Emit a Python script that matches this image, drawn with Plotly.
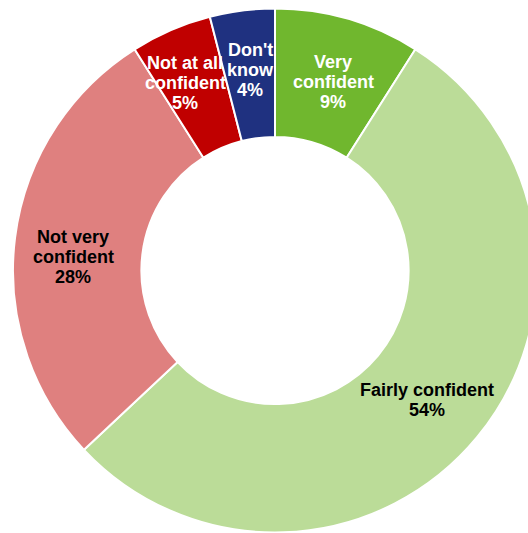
import plotly.graph_objects as go

# Survey responses: confidence level and share of respondents (%)
categories = ["Very confident", "Fairly confident", "Not very confident",
              "Not at all confident", "Don't know"]
shares = [9, 54, 28, 5, 4]

# How each category name is broken across lines inside its slice
label_lines = [["Very", "confident"], ["Fairly confident"], ["Not very", "confident"],
               ["Not at all", "confident"], ["Don't", "know"]]

slice_colors = ["#70B72E", "#BBDC98", "#DF807F", "#C00000", "#1F3180"]
text_colors = ["white", "black", "black", "white", "white"]

# Label block centres in pixels (x from left, y from top)
label_centres = [(333, 82), (427, 400), (73, 257), (185, 83), (250, 70)]

# The ring runs slightly past the right edge of the 528px page, so the
# figure is drawn a little wider and the overflow is hidden.
W, H = 540, 533
LINE_PITCH = 20
CX, CY, R = 275, 270.5, 262

fig = go.Figure(go.Pie(
    labels=categories,
    values=shares,
    sort=False,
    direction="clockwise",
    rotation=0,
    hole=0.51,
    marker=dict(colors=slice_colors, line=dict(color="white", width=2)),
    textinfo="none",
    hoverinfo="label+percent",
    showlegend=False,
    domain=dict(x=[(CX - R) / W, (CX + R) / W],
                y=[(H - CY - R) / H, (H - CY + R) / H]),
))

annotations = []
for lines, value, colour, (cx, cy) in zip(label_lines, shares, text_colors, label_centres):
    rows = lines + [f"{value}%"]
    n = len(rows)
    for i, row in enumerate(rows):
        y_px = cy + (i - (n - 1) / 2) * LINE_PITCH
        annotations.append(dict(
            x=cx / W, y=1 - y_px / H, xref="paper", yref="paper",
            text=f"<b>{row}</b>", showarrow=False,
            xanchor="center", yanchor="middle",
            font=dict(family="Liberation Sans, Arial, sans-serif", size=18, color=colour),
        ))

fig.update_layout(
    width=W, height=H,
    margin=dict(l=0, r=0, t=0, b=0),
    paper_bgcolor="white",
    plot_bgcolor="white",
    annotations=annotations,
)

fig.write_html(
    "out.html",
    post_script="document.documentElement.style.overflow='hidden';"
                "document.body.style.overflow='hidden';document.body.style.margin='0';",
)
